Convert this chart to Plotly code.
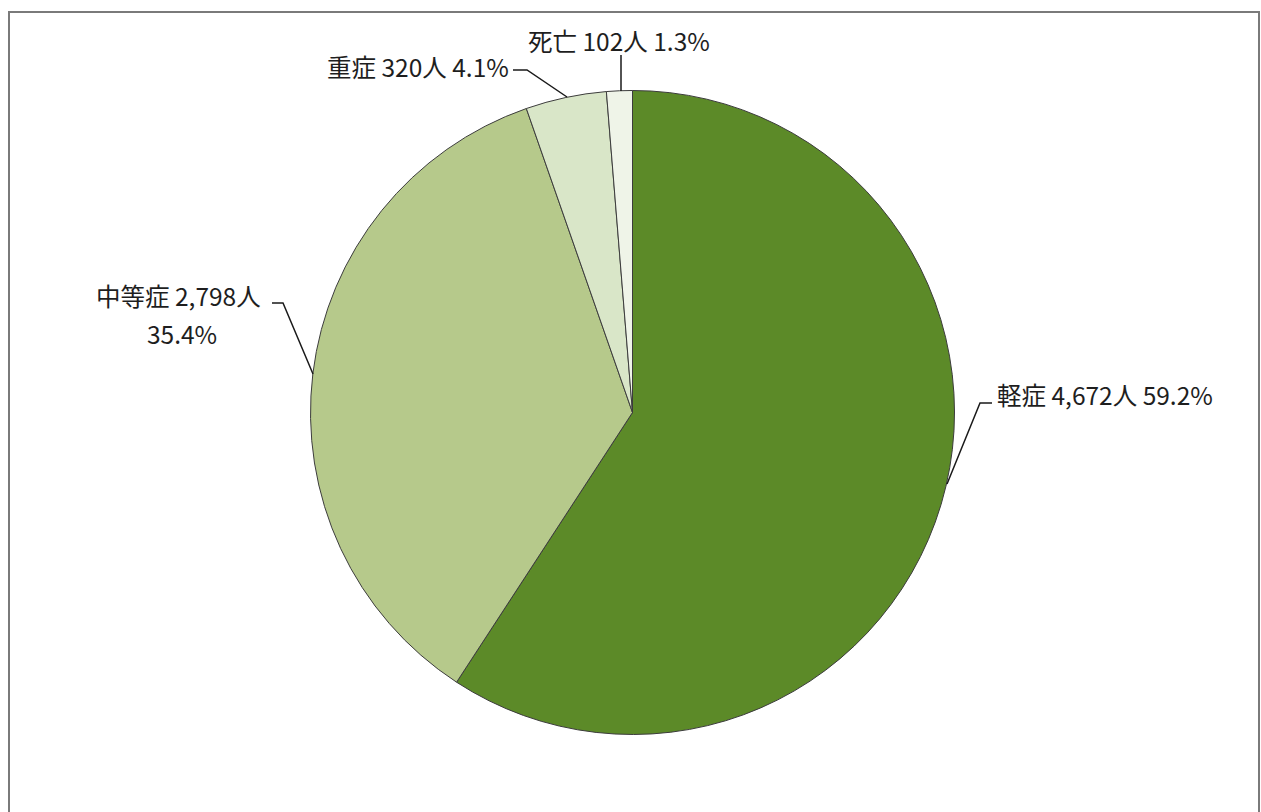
import plotly.graph_objects as go

# Data
categories = ["軽症", "中等症", "重症", "死亡"]
counts = [4672, 2798, 320, 102]
percents = ["59.2%", "35.4%", "4.1%", "1.3%"]
colors = ["#5c8a28", "#b6c98b", "#d9e6c8", "#eff4e8"]

W, H = 1261, 812

def px(x):
    return x / W

def py(y):
    return 1 - y / H

fig = go.Figure()
fig.add_trace(go.Pie(
    labels=categories,
    values=counts,
    sort=False,
    direction="clockwise",
    rotation=0,
    textinfo="none",
    hoverinfo="label+value+percent",
    marker=dict(colors=colors, line=dict(color="#3c3c3c", width=1)),
    domain=dict(x=[px(310.5), px(954.5)], y=[py(734.5), py(90.5)]),
    showlegend=False,
))

font = dict(family="Noto Sans CJK JP", size=24.5, color="#1e1e1e")

def lbl(i):
    return f"{categories[i]} {counts[i]:,}人 {percents[i]}"

annotations = [
    dict(x=px(995), y=py(395), text=lbl(0), xanchor="left", yanchor="middle"),
    dict(x=px(178), y=py(295), text=f"{categories[1]} {counts[1]:,}人",
         xanchor="center", yanchor="middle"),
    dict(x=px(182), y=py(333), text=percents[1], xanchor="center", yanchor="middle"),
    dict(x=px(511), y=py(67), text=lbl(2), xanchor="right", yanchor="middle"),
    dict(x=px(619), y=py(40), text=lbl(3), xanchor="center", yanchor="middle"),
]
for a in annotations:
    a.update(xref="paper", yref="paper", showarrow=False, font=font)

def path(points):
    s = "M " + " L ".join(f"{px(x)},{py(y)}" for x, y in points)
    return dict(type="path", xref="paper", yref="paper", path=s,
                line=dict(color="#1a1a1a", width=1.5))

shapes = [
    # frame
    dict(type="rect", xref="paper", yref="paper", x0=px(9), x1=px(1259), y0=py(830), y1=py(12),
         line=dict(color="#7a7a7a", width=2), fillcolor="rgba(0,0,0,0)", layer="above"),
    path([(992, 403), (980, 403), (947, 484)]),
    path([(272, 303), (283, 303), (313, 374)]),
    path([(513, 70), (527, 70), (567, 97)]),
    path([(621, 55), (621, 91)]),
]

fig.update_layout(
    width=W, height=H,
    margin=dict(l=0, r=0, t=0, b=0),
    paper_bgcolor="white",
    plot_bgcolor="white",
    annotations=annotations,
    shapes=shapes,
)

fig.write_html(
    "out.html",
    config={"displayModeBar": False},
    post_script="document.body.style.margin='0';document.body.style.overflow='hidden';",
)
